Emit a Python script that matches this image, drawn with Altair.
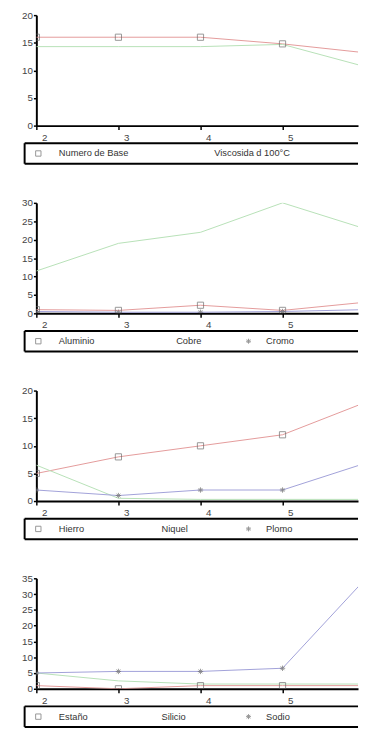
import altair as alt
import pandas as pd

# ---------------- data ----------------
x_vals = [2, 3, 4, 5, 6]

p1_names = ["Numero de Base", "Viscosida d 100°C"]
p1_s1 = [16, 16, 16, 14.8, 13.2]
p1_s2 = [14.3, 14.3, 14.3, 14.7, 10.7]

p2_names = ["Aluminio", "Cobre", "Cromo"]
p2_s1 = [1, 0.8, 2.2, 0.8, 3]
p2_s2 = [11.5, 19, 22, 30, 23]
p2_s3 = [0.5, 0.3, 0.3, 0.5, 1]

p3_names = ["Hierro", "Niquel", "Plomo"]
p3_s1 = [5, 8, 10, 12, 17.8]
p3_s2 = [6.5, 0.5, 0.3, 0.3, 0.3]
p3_s3 = [2, 1, 2, 2, 6.8]

p4_names = ["Estaño", "Silicio", "Sodio"]
p4_s1 = [1, 0, 1, 1, 1]
p4_s2 = [5, 2.5, 1.5, 1.5, 1.5]
p4_s3 = [5, 5.5, 5.5, 6.5, 34.5]

y_max = [20, 30, 20, 35]
x_ticks = [2, 3, 4, 5]

# ---------------- style ----------------
W, H = 329, 113
COLORS = ["#e39a9a", "#b6e0b6", "#a0a0d8"]
MARK_STROKE = "#6a6a6a"
FONT = "Liberation Sans"
ASTER = "M-1,0L1,0M0,-1L0,1M-0.7,-0.7L0.7,0.7M-0.7,0.7L0.7,-0.7"


def panel(names, series, ymax, label2_x):
    rows = []
    for k, (n, s) in enumerate(zip(names, series)):
        for xv, v in zip(x_vals, s):
            rows.append({"x": xv, "v": v, "serie": n, "k": k})
    df = pd.DataFrame(rows)
    xs = alt.Scale(domain=[2, 5.92], nice=False, zero=False)
    ys = alt.Scale(domain=[0, ymax], nice=False)
    cs = alt.Scale(domain=[0, 1, 2], range=COLORS)
    xenc = alt.X("x:Q", scale=xs, title=None,
                 axis=alt.Axis(values=x_ticks, labelAlign="center", labelOffset=8,
                               labelPadding=3, tickSize=4, format="d"))
    yenc = alt.Y("v:Q", scale=ys, title=None,
                 axis=alt.Axis(values=list(range(0, ymax + 1, 5)),
                               labelPadding=1, tickSize=3))
    base = alt.Chart(df)
    lines = base.mark_line(strokeWidth=1, clip=True).encode(
        x=xenc, y=yenc,
        color=alt.Color("k:N", scale=cs, legend=None),
        detail="serie:N",
    )
    squares = base.transform_filter(alt.datum.k == 0).mark_point(
        shape="square", size=40, stroke=MARK_STROKE, strokeWidth=1, clip=True
    ).encode(x=xenc, y=yenc)
    layers = [lines, squares]
    if len(names) > 2:
        aster = base.transform_filter(alt.datum.k == 2).mark_point(
            shape=ASTER, size=30, stroke=MARK_STROKE, strokeWidth=1, clip=True
        ).encode(x=xenc, y=yenc)
        layers.append(aster)

    # legend box (open on the right where the picture is cut)
    one = alt.Chart(pd.DataFrame({"a": [0]}))
    ytop, ybot = H + 18, H + 39
    ymid = (ytop + ybot) / 2
    layers.append(one.mark_rule(color="black", strokeWidth=2).encode(
        x=alt.value(-12), x2=alt.value(W), y=alt.value(ytop)))
    layers.append(one.mark_rule(color="black", strokeWidth=2).encode(
        x=alt.value(-12), x2=alt.value(W), y=alt.value(ybot)))
    layers.append(one.mark_rule(color="black", strokeWidth=2).encode(
        x=alt.value(-12), y=alt.value(ytop), y2=alt.value(ybot)))
    layers.append(one.mark_point(shape="square", size=30, stroke=MARK_STROKE,
                                 strokeWidth=1).encode(
        x=alt.value(2), y=alt.value(ymid)))
    label_x = [23, label2_x, 235]
    for i, n in enumerate(names):
        layers.append(
            alt.Chart(pd.DataFrame({"serie": [n]})).mark_text(
                align="left", baseline="middle", font=FONT, fontSize=9.5,
                color="#333333"
            ).encode(x=alt.value(label_x[i]), y=alt.value(ymid), text="serie:N")
        )
    if len(names) > 2:
        layers.append(one.mark_point(shape=ASTER, size=26, stroke=MARK_STROKE,
                                     strokeWidth=1).encode(
            x=alt.value(217), y=alt.value(ymid)))
    return alt.layer(*layers).properties(width=W, height=H)


charts = [
    panel(p1_names, [p1_s1, p1_s2], y_max[0], 182),
    panel(p2_names, [p2_s1, p2_s2, p2_s3], y_max[1], 143),
    panel(p3_names, [p3_s1, p3_s2, p3_s3], y_max[2], 128),
    panel(p4_names, [p4_s1, p4_s2, p4_s3], y_max[3], 128),
]

chart = alt.vconcat(*charts, spacing=34).properties(
    padding={"left": 13, "top": -6, "right": 0, "bottom": 0}
).configure_view(stroke=None).configure_axis(
    grid=False, domainColor="black", domainWidth=2, tickColor="black",
    tickWidth=1.5, labelFont=FONT, labelFontSize=10, labelColor="#444444",
)

chart.save("out.html", embed_options={"renderer": "svg", "actions": False})
